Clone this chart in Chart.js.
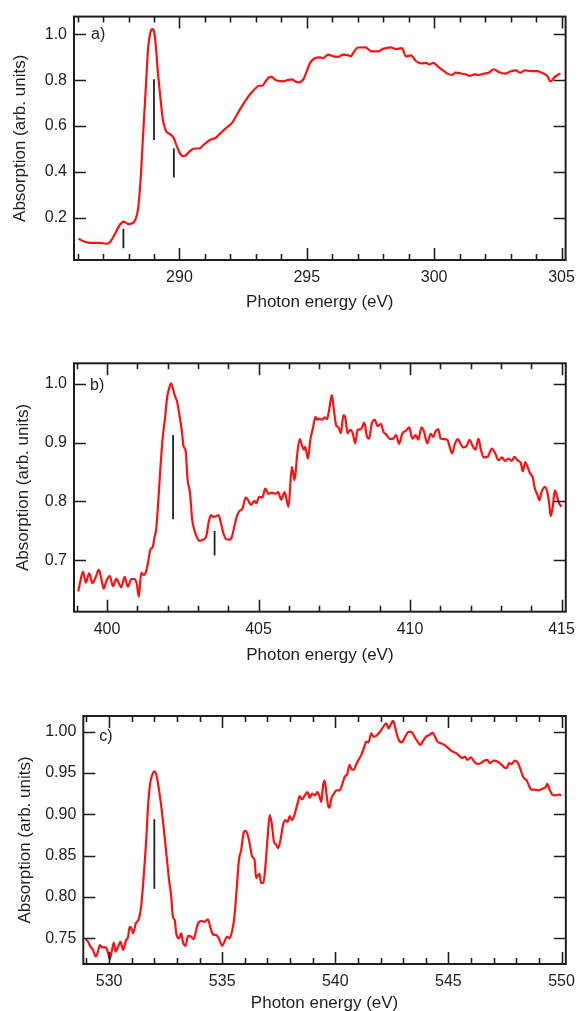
<!DOCTYPE html>
<html>
<head>
<meta charset="utf-8">
<script src="https://cdn.jsdelivr.net/npm/chart.js@4.4.1/dist/chart.umd.min.js"></script>
<style>
  html, body { margin: 0; padding: 0; background: #fff; width: 583px; height: 1011px; overflow: hidden; }
  .panel { position: absolute; left: 0; }
  canvas { display: block; }
</style>
</head>
<body>
<div class="panel" style="top:0px"><canvas id="chartA" width="583" height="330"></canvas></div>
<div class="panel" style="top:330px"><canvas id="chartB" width="583" height="350"></canvas></div>
<div class="panel" style="top:680px"><canvas id="chartC" width="583" height="345"></canvas></div>
<script>
// ---- a) C K-edge ----
const energyA = [
  286.04, 286.23, 286.49, 286.88, 287.14, 287.27, 287.47, 287.66, 287.82, 287.99,
  288.12, 288.28, 288.38, 288.47, 288.57, 288.68, 288.77, 288.86, 288.94, 288.99,
  289.07, 289.15, 289.25, 289.35, 289.48, 289.61, 289.77, 289.87, 290.00, 290.13,
  290.23, 290.39, 290.58, 290.78, 290.97, 291.20, 291.43, 291.62, 291.88, 292.08,
  292.23, 292.40, 292.60, 292.79, 292.99, 293.12, 293.25, 293.38, 293.51, 293.61,
  293.77, 294.02, 294.16, 294.41, 294.55, 294.67, 294.87, 295.00, 295.13, 295.30,
  295.52, 295.65, 295.84, 296.04, 296.23, 296.43, 296.62, 296.73, 296.82, 297.01,
  297.30, 297.53, 297.79, 297.99, 298.29, 298.51, 298.73, 298.90, 299.09, 299.29,
  299.48, 299.68, 299.81, 299.97, 300.13, 300.32, 300.52, 300.71, 300.84, 301.04,
  301.23, 301.40, 301.58, 301.75, 301.95, 302.14, 302.34, 302.53, 302.79, 302.99,
  303.22, 303.38, 303.57, 303.77, 304.03, 304.29, 304.44, 304.57, 304.74, 304.96
];
const absorptionA = [
  0.108, 0.097, 0.090, 0.090, 0.086, 0.093, 0.129, 0.169, 0.183, 0.172,
  0.174, 0.193, 0.243, 0.357, 0.556, 0.769, 0.940, 1.009, 1.023, 1.018,
  0.954, 0.840, 0.727, 0.627, 0.577, 0.566, 0.549, 0.520, 0.485, 0.468,
  0.471, 0.488, 0.502, 0.502, 0.520, 0.539, 0.549, 0.570, 0.596, 0.616,
  0.644, 0.677, 0.712, 0.741, 0.765, 0.776, 0.776, 0.795, 0.812, 0.815,
  0.801, 0.795, 0.798, 0.804, 0.795, 0.791, 0.805, 0.840, 0.876, 0.895,
  0.900, 0.897, 0.912, 0.904, 0.902, 0.912, 0.909, 0.904, 0.919, 0.943,
  0.944, 0.926, 0.926, 0.937, 0.944, 0.936, 0.940, 0.904, 0.909, 0.883,
  0.874, 0.876, 0.869, 0.876, 0.862, 0.845, 0.829, 0.823, 0.833, 0.830,
  0.826, 0.819, 0.826, 0.823, 0.829, 0.833, 0.848, 0.836, 0.829, 0.838,
  0.843, 0.833, 0.843, 0.840, 0.840, 0.830, 0.819, 0.795, 0.815, 0.830
];
const peakEnergyA = [287.8, 289.0, 289.78];
const peakLowA    = [0.066, 0.539, 0.375];
const peakHighA   = [0.152, 0.804, 0.503];
const xTicksA = [290, 295, 300, 305];
const yTicksA = [0.2, 0.4, 0.6, 0.8, 1.0];

// ---- b) N K-edge ----
const energyB = [
  399.05, 399.13, 399.21, 399.30, 399.41, 399.52, 399.63, 399.73, 399.81, 399.89,
  399.98, 400.09, 400.20, 400.31, 400.39, 400.47, 400.58, 400.69, 400.80, 400.91,
  400.99, 401.05, 401.13, 401.21, 401.29, 401.37, 401.43, 401.51, 401.57, 401.62,
  401.68, 401.75, 401.84, 401.92, 401.98, 402.06, 402.11, 402.17, 402.24, 402.31,
  402.39, 402.47, 402.53, 402.59, 402.66, 402.74, 402.81, 402.88, 402.96, 403.05,
  403.16, 403.27, 403.36, 403.43, 403.51, 403.60, 403.68, 403.76, 403.84, 403.93,
  404.04, 404.12, 404.20, 404.28, 404.36, 404.47, 404.58, 404.67, 404.75, 404.86,
  404.93, 405.02, 405.13, 405.22, 405.33, 405.44, 405.55, 405.65, 405.75, 405.86,
  405.99, 406.10, 406.19, 406.28, 406.36, 406.43, 406.50, 406.54, 406.63, 406.71,
  406.80, 406.88, 406.94, 407.01, 407.09, 407.18, 407.26, 407.34, 407.42, 407.48,
  407.56, 407.64, 407.72, 407.80, 407.86, 407.94, 408.03, 408.11, 408.19, 408.27,
  408.38, 408.49, 408.58, 408.65, 408.74, 408.84, 408.93, 409.04, 409.12, 409.23,
  409.34, 409.45, 409.54, 409.64, 409.75, 409.86, 409.97, 410.08, 410.19, 410.27,
  410.38, 410.46, 410.57, 410.68, 410.77, 410.84, 410.93, 411.01, 411.12, 411.23,
  411.31, 411.39, 411.48, 411.58, 411.66, 411.75, 411.86, 411.97, 412.05, 412.16,
  412.26, 412.34, 412.43, 412.56, 412.70, 412.81, 412.92, 413.03, 413.14, 413.25,
  413.36, 413.44, 413.55, 413.66, 413.72, 413.80, 413.87, 413.96, 414.05, 414.12,
  414.21, 414.27, 414.34, 414.45, 414.53, 414.60, 414.64, 414.71, 414.78, 414.86,
  414.92, 415.00
];
const absorptionB = [
  0.647, 0.667, 0.681, 0.662, 0.678, 0.661, 0.672, 0.684, 0.669, 0.652,
  0.665, 0.673, 0.656, 0.669, 0.661, 0.654, 0.672, 0.655, 0.668, 0.668,
  0.658, 0.638, 0.679, 0.675, 0.681, 0.701, 0.718, 0.723, 0.740, 0.752,
  0.791, 0.848, 0.910, 0.944, 0.976, 0.994, 1.001, 0.993, 0.980, 0.970,
  0.947, 0.919, 0.893, 0.888, 0.837, 0.814, 0.769, 0.752, 0.740, 0.733,
  0.735, 0.740, 0.766, 0.777, 0.774, 0.775, 0.777, 0.763, 0.746, 0.736,
  0.735, 0.740, 0.757, 0.774, 0.783, 0.788, 0.807, 0.801, 0.794, 0.801,
  0.797, 0.808, 0.807, 0.822, 0.813, 0.815, 0.813, 0.816, 0.803, 0.816,
  0.791, 0.859, 0.836, 0.882, 0.906, 0.896, 0.888, 0.893, 0.873, 0.905,
  0.926, 0.944, 0.939, 0.941, 0.939, 0.943, 0.940, 0.959, 0.981, 0.959,
  0.930, 0.926, 0.916, 0.947, 0.944, 0.916, 0.922, 0.916, 0.899, 0.922,
  0.923, 0.934, 0.910, 0.907, 0.933, 0.939, 0.928, 0.932, 0.919, 0.913,
  0.906, 0.907, 0.913, 0.898, 0.916, 0.920, 0.926, 0.907, 0.913, 0.905,
  0.926, 0.919, 0.899, 0.915, 0.910, 0.919, 0.923, 0.907, 0.906, 0.905,
  0.893, 0.882, 0.898, 0.906, 0.899, 0.892, 0.894, 0.905, 0.896, 0.888,
  0.907, 0.888, 0.875, 0.876, 0.890, 0.882, 0.870, 0.875, 0.869, 0.873,
  0.869, 0.876, 0.870, 0.865, 0.851, 0.867, 0.860, 0.848, 0.841, 0.822,
  0.811, 0.802, 0.816, 0.825, 0.816, 0.794, 0.775, 0.791, 0.819, 0.807,
  0.797, 0.791
];
const peakEnergyB = [402.18, 403.55];
const peakLowB    = [0.770, 0.708];
const peakHighB   = [0.913, 0.750];
const xTicksB = [400, 405, 410, 415];
const yTicksB = [0.7, 0.8, 0.9, 1.0];

// ---- c) O K-edge ----
const energyC = [
  528.97, 529.07, 529.18, 529.29, 529.41, 529.51, 529.59, 529.71, 529.85, 529.96,
  530.03, 530.13, 530.21, 530.29, 530.40, 530.50, 530.62, 530.74, 530.84, 530.91,
  530.99, 531.06, 531.18, 531.32, 531.43, 531.53, 531.65, 531.72, 531.82, 531.94,
  532.03, 532.12, 532.21, 532.31, 532.41, 532.53, 532.65, 532.75, 532.82, 532.90,
  532.97, 533.09, 533.19, 533.26, 533.38, 533.49, 533.63, 533.74, 533.85, 533.93,
  534.07, 534.22, 534.37, 534.47, 534.59, 534.74, 534.85, 535.00, 535.10, 535.21,
  535.32, 535.43, 535.54, 535.65, 535.74, 535.84, 535.94, 536.03, 536.13, 536.24,
  536.32, 536.43, 536.50, 536.57, 536.65, 536.72, 536.82, 536.91, 537.01, 537.10,
  537.19, 537.29, 537.40, 537.47, 537.59, 537.69, 537.80, 537.89, 537.99, 538.09,
  538.21, 538.33, 538.43, 538.53, 538.65, 538.77, 538.87, 538.97, 539.09, 539.21,
  539.31, 539.38, 539.46, 539.53, 539.60, 539.68, 539.75, 539.82, 539.94, 540.04,
  540.19, 540.29, 540.41, 540.53, 540.63, 540.73, 540.82, 540.93, 541.03, 541.15,
  541.26, 541.37, 541.47, 541.59, 541.69, 541.81, 541.95, 542.10, 542.25, 542.36,
  542.47, 542.56, 542.64, 542.73, 542.83, 542.94, 543.05, 543.20, 543.32, 543.42,
  543.52, 543.64, 543.76, 543.86, 544.01, 544.16, 544.30, 544.41, 544.52, 544.67,
  544.82, 544.96, 545.11, 545.26, 545.40, 545.52, 545.62, 545.73, 545.84, 545.99,
  546.14, 546.28, 546.43, 546.58, 546.72, 546.84, 546.99, 547.17, 547.31, 547.46,
  547.58, 547.68, 547.80, 547.93, 548.08, 548.19, 548.31, 548.46, 548.56, 548.66,
  548.81, 549.00, 549.15, 549.30, 549.37, 549.49, 549.59, 549.74, 549.88, 549.99
];
const absorptionC = [
  0.749, 0.746, 0.740, 0.736, 0.728, 0.734, 0.742, 0.739, 0.739, 0.732,
  0.725, 0.736, 0.745, 0.734, 0.740, 0.746, 0.736, 0.747, 0.752, 0.764,
  0.762, 0.756, 0.768, 0.774, 0.792, 0.825, 0.873, 0.909, 0.938, 0.950,
  0.952, 0.944, 0.929, 0.909, 0.885, 0.853, 0.821, 0.800, 0.776, 0.772,
  0.756, 0.750, 0.756, 0.746, 0.741, 0.753, 0.752, 0.749, 0.760, 0.768,
  0.771, 0.770, 0.773, 0.764, 0.755, 0.754, 0.750, 0.741, 0.746, 0.752,
  0.750, 0.758, 0.776, 0.813, 0.845, 0.857, 0.877, 0.880, 0.875, 0.861,
  0.849, 0.845, 0.823, 0.826, 0.828, 0.817, 0.817, 0.837, 0.873, 0.899,
  0.889, 0.867, 0.863, 0.859, 0.871, 0.887, 0.893, 0.891, 0.898, 0.893,
  0.901, 0.913, 0.922, 0.918, 0.923, 0.927, 0.920, 0.925, 0.923, 0.927,
  0.921, 0.915, 0.935, 0.941, 0.927, 0.911, 0.908, 0.919, 0.925, 0.929,
  0.929, 0.935, 0.945, 0.949, 0.960, 0.954, 0.954, 0.961, 0.966, 0.972,
  0.980, 0.988, 0.987, 0.998, 0.994, 0.995, 0.999, 1.005, 1.010, 1.004,
  1.010, 1.013, 1.006, 0.996, 0.989, 0.987, 0.992, 0.999, 1.000, 0.998,
  0.993, 0.988, 0.984, 0.988, 0.994, 0.996, 0.999, 0.994, 0.988, 0.986,
  0.984, 0.981, 0.977, 0.975, 0.973, 0.970, 0.968, 0.970, 0.966, 0.969,
  0.964, 0.961, 0.962, 0.965, 0.966, 0.962, 0.965, 0.964, 0.961, 0.957,
  0.956, 0.962, 0.961, 0.965, 0.962, 0.954, 0.945, 0.941, 0.935, 0.930,
  0.930, 0.929, 0.931, 0.933, 0.937, 0.929, 0.924, 0.923, 0.924, 0.923
];
const peakEnergyC = [532.0];
const peakLowC    = [0.810];
const peakHighC   = [0.894];
const xTicksC = [530, 535, 540, 545, 550];
const yTicksC = [0.75, 0.80, 0.85, 0.90, 0.95, 1.00];

// ---- shared drawing helpers ----
const FONT = '"Liberation Sans", Arial, Helvetica, sans-serif';
const INK = '#1e1e1e';
const TITLE_SIZE = 17;

function range(a, b, step) {
  const out = [];
  for (let v = a; v <= b + 1e-9; v += step) out.push(+v.toFixed(6));
  return out;
}

// Closed frame with inward-pointing major/minor ticks, plus the panel tag
const frameTicks = {
  id: 'frameTicks',
  afterDatasetsDraw(chart, args, o) {
    const { ctx, chartArea: a, scales: { x, y } } = chart;
    ctx.save();
    ctx.strokeStyle = INK;
    ctx.lineWidth = 1.6;
    ctx.beginPath();
    o.xMinor.forEach(v => {
      const px = Math.round(x.getPixelForValue(v)) + 0.5;
      const len = o.xMajor.some(m => Math.abs(m - v) < 1e-6) ? 12 : 6;
      ctx.moveTo(px, a.bottom); ctx.lineTo(px, a.bottom - len);
      ctx.moveTo(px, a.top); ctx.lineTo(px, a.top + len);
    });
    o.yMajor.forEach(v => {
      const py = Math.round(y.getPixelForValue(v)) + 0.5;
      ctx.moveTo(a.left, py); ctx.lineTo(a.left + 12, py);
      ctx.moveTo(a.right, py); ctx.lineTo(a.right - 12, py);
    });
    ctx.stroke();
    ctx.lineWidth = 2;
    ctx.strokeRect(a.left, a.top, a.right - a.left, a.bottom - a.top);
    ctx.fillStyle = INK;
    ctx.font = '16px ' + FONT;
    ctx.textAlign = 'left';
    ctx.textBaseline = 'middle';
    ctx.fillText(o.tag, a.left + o.tagDx, y.getPixelForValue(o.tagY));
    ctx.restore();
  }
};

function makePanel(id, p) {
  const canvas = document.getElementById(id);
  const H = canvas.height, W = canvas.width;
  const titleLH = TITLE_SIZE * 1.2;
  const padLeft = p.yTitleX - titleLH / 2;
  const yWidth = p.area.left - padLeft;
  const xBottom = p.xTitleY + titleLH / 2;
  const xHeight = xBottom - p.area.bottom;

  const curve = p.energy.map((e, i) => ({ x: e, y: p.absorption[i] }));
  const datasets = [{
    data: curve,
    borderColor: '#ff1010',
    borderWidth: 2.2,
    pointRadius: 0,
    showLine: true,
    cubicInterpolationMode: 'monotone',
    order: 1
  }];
  p.peakEnergy.forEach((e, i) => {
    datasets.push({
      data: [{ x: e, y: p.peakLow[i] }, { x: e, y: p.peakHigh[i] }],
      borderColor: '#222',
      borderWidth: 1.8,
      pointRadius: 0,
      showLine: true,
      order: 0
    });
  });

  const tickFont = { family: FONT, size: 16 };
  const titleFont = { family: FONT, size: TITLE_SIZE };

  return new Chart(canvas, {
    type: 'scatter',
    data: { datasets },
    options: {
      responsive: false,
      animation: false,
      devicePixelRatio: 1,
      layout: {
        padding: {
          left: padLeft,
          top: p.area.top,
          right: W - p.area.right,
          bottom: H - xBottom
        }
      },
      plugins: {
        legend: { display: false },
        tooltip: { enabled: false },
        frameTicks: {
          xMajor: p.xTicks, xMinor: p.xMinor, yMajor: p.yTicks,
          tag: p.tag, tagDx: p.tagDx, tagY: p.tagY
        }
      },
      scales: {
        x: {
          type: 'linear',
          min: p.xMin, max: p.xMax,
          afterBuildTicks: s => { s.ticks = p.xTicks.map(v => ({ value: v })); },
          afterFit: s => { s.height = xHeight; },
          grid: { display: false, drawTicks: false },
          border: { display: false },
          ticks: {
            font: tickFont, color: INK, padding: 8,
            maxRotation: 0, autoSkip: false,
            callback: v => String(v)
          },
          title: {
            display: true, text: 'Photon energy (eV)',
            font: titleFont, color: INK, padding: { top: 0, bottom: 0 }
          }
        },
        y: {
          type: 'linear',
          min: p.yMin, max: p.yMax,
          afterBuildTicks: s => { s.ticks = p.yTicks.map(v => ({ value: v })); },
          afterFit: s => { s.width = yWidth; },
          grid: { display: false, drawTicks: false },
          border: { display: false },
          ticks: {
            font: tickFont, color: INK, padding: 7,
            callback: v => v.toFixed(p.yDecimals)
          },
          title: {
            display: true, text: 'Absorption (arb. units)',
            font: titleFont, color: INK, padding: { top: 0, bottom: 0 }
          }
        }
      }
    },
    plugins: [frameTicks]
  });
}

makePanel('chartA', {
  energy: energyA, absorption: absorptionA,
  peakEnergy: peakEnergyA, peakLow: peakLowA, peakHigh: peakHighA,
  xTicks: xTicksA, xMinor: range(286, 305, 1), yTicks: yTicksA, yDecimals: 1,
  xMin: 285.86, xMax: 305.16, yMin: 0.015, yMax: 1.078,
  area: { left: 74, top: 11, right: 569, bottom: 260 },
  yTitleX: 20.5, xTitleY: 302,
  tag: 'a)', tagDx: 17, tagY: 1.0
});

makePanel('chartB', {
  energy: energyB, absorption: absorptionB,
  peakEnergy: peakEnergyB, peakLow: peakLowB, peakHigh: peakHighB,
  xTicks: xTicksB, xMinor: range(399, 415, 1), yTicks: yTicksB, yDecimals: 1,
  xMin: 398.91, xMax: 415.14, yMin: 0.6126, yMax: 1.035,
  area: { left: 74, top: 33.3, right: 569.3, bottom: 281.7 },
  yTitleX: 23.3, xTitleY: 325,
  tag: 'b)', tagDx: 16, tagY: 0.997
});

makePanel('chartC', {
  energy: energyC, absorption: absorptionC,
  peakEnergy: peakEnergyC, peakLow: peakLowC, peakHigh: peakHighC,
  xTicks: xTicksC, xMinor: range(529, 550, 1), yTicks: yTicksC, yDecimals: 2,
  xMin: 528.86, xMax: 550.19, yMin: 0.719, yMax: 1.019,
  area: { left: 83.3, top: 36, right: 568.7, bottom: 284 },
  yTitleX: 25, xTitleY: 323,
  tag: 'c)', tagDx: 16, tagY: 0.994
});
</script>
</body>
</html>
